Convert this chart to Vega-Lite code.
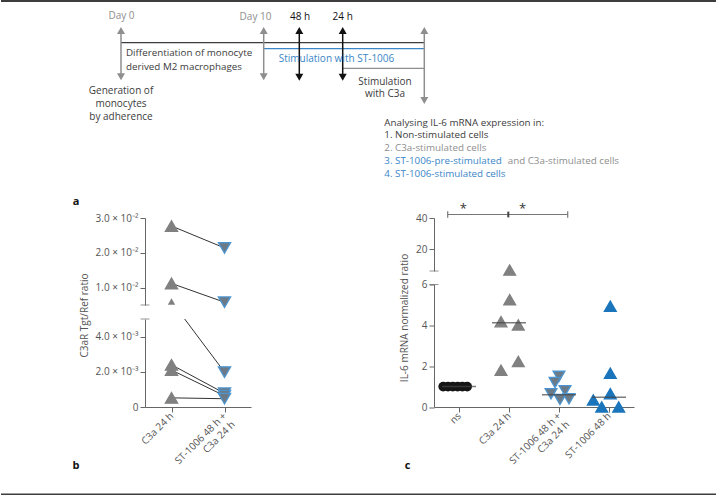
{
  "$schema": "https://vega.github.io/schema/vega-lite/v6.json",
  "padding": 0,
  "background": "white",
  "bounds": "flush",
  "spacing": 0,
  "resolve": {"scale": {"color": "independent", "stroke": "independent", "shape": "independent"}},
  "datasets": {
    "alines": [
      {"x": 120, "x2": 423.3, "y": 42.7, "series": "base"},
      {"x": 262.7, "x2": 423.3, "y": 48.7, "series": "ST-1006"},
      {"x": 341.7, "x2": 423.3, "y": 68.3, "series": "C3a"}
    ],
    "aframe": [{"x": 0, "x2": 716, "y": 1, "series": "frame"}],
    "arrows": [
      {"x": 120, "top": 30.5, "bottom": 76.8, "series": "day"},
      {"x": 262.7, "top": 30.5, "bottom": 76.8, "series": "day"},
      {"x": 298.3, "top": 30.5, "bottom": 77.3, "series": "timepoint"},
      {"x": 341.7, "top": 30.5, "bottom": 77.3, "series": "timepoint"},
      {"x": 423.3, "top": 30.5, "bottom": 100.5, "series": "day"}
    ],
    "atextc": [
      {"x": 120.5, "y": 16, "text": "Day 0", "series": "day"},
      {"x": 254.5, "y": 16.5, "text": "Day 10", "series": "day"},
      {"x": 299, "y": 16.5, "text": "48 h", "series": "timepoint"},
      {"x": 341.7, "y": 16.5, "text": "24 h", "series": "timepoint"},
      {"x": 335.5, "y": 59.3, "text": "Stimulation with ST-1006", "series": "ST-1006"},
      {"x": 384, "y": 81.7, "text": "Stimulation", "series": "base"},
      {"x": 384, "y": 94.3, "text": "with C3a", "series": "base"},
      {"x": 120, "y": 90.7, "text": "Generation of", "series": "base"},
      {"x": 120, "y": 104, "text": "monocytes", "series": "base"},
      {"x": 120, "y": 116.7, "text": "by adherence", "series": "base"}
    ],
    "atextl": [
      {"x": 125, "y": 53.3, "text": "Differentiation of monocyte", "series": "base"},
      {"x": 125, "y": 66.7, "text": "derived M2 macrophages", "series": "base"},
      {"x": 383.3, "y": 122.5, "text": "Analysing IL-6 mRNA expression in:", "series": "base"},
      {"x": 383.3, "y": 135.2, "text": "1. Non-stimulated cells", "series": "base"},
      {"x": 383.3, "y": 148.3, "text": "2. C3a-stimulated cells", "series": "C3a"},
      {"x": 383.3, "y": 161.4, "text": "3. ST-1006-pre-stimulated", "series": "ST-1006"},
      {"x": 506.7, "y": 161.4, "text": "and C3a-stimulated cells", "series": "C3a"},
      {"x": 383.3, "y": 174, "text": "4. ST-1006-stimulated cells", "series": "ST-1006"}
    ],
    "alabel": [{"x": 75, "y": 202, "text": "a"}],
    "botlabels": [{"x": 75, "y": 247.5, "text": "b"}, {"x": 406.7, "y": 247.5, "text": "c"}],
    "botframe": [{"x": 0, "x2": 716, "y": 276.5}],
    "bpts": [
      {"pair": 1, "group": "C3a 24 h", "pos": 1, "v": 0.0277},
      {"pair": 1, "group": "ST-1006 48 h + C3a 24 h", "pos": 2, "v": 0.0214},
      {"pair": 2, "group": "C3a 24 h", "pos": 1, "v": 0.0112},
      {"pair": 2, "group": "ST-1006 48 h + C3a 24 h", "pos": 2, "v": 0.0058},
      {"pair": 3, "group": "C3a 24 h", "pos": 1, "v": 0.006},
      {"pair": 3, "group": "ST-1006 48 h + C3a 24 h", "pos": 2, "v": 0.00198},
      {"pair": 4, "group": "C3a 24 h", "pos": 1, "v": 0.0024},
      {"pair": 4, "group": "ST-1006 48 h + C3a 24 h", "pos": 2, "v": 0.00078},
      {"pair": 5, "group": "C3a 24 h", "pos": 1, "v": 0.0021},
      {"pair": 5, "group": "ST-1006 48 h + C3a 24 h", "pos": 2, "v": 0.00064},
      {"pair": 6, "group": "C3a 24 h", "pos": 1, "v": 0.00052},
      {"pair": 6, "group": "ST-1006 48 h + C3a 24 h", "pos": 2, "v": 0.00047}
    ],
    "bbreak": [{"pos": 0.5, "v": 0.005}],
    "cbreak": [{"pos": 0.5, "v": 6}],
    "cpts": [
      {"group": "ns", "pos": 0.684, "v": 1.0},
      {"group": "ns", "pos": 0.78, "v": 1.0},
      {"group": "ns", "pos": 0.876, "v": 1.0},
      {"group": "ns", "pos": 0.972, "v": 1.0},
      {"group": "ns", "pos": 1.068, "v": 1.0},
      {"group": "ns", "pos": 1.164, "v": 1.0},
      {"group": "C3a 24 h", "pos": 2.014, "v": 6.6},
      {"group": "C3a 24 h", "pos": 2.014, "v": 5.26},
      {"group": "C3a 24 h", "pos": 1.84, "v": 4.18},
      {"group": "C3a 24 h", "pos": 2.186, "v": 4.02},
      {"group": "C3a 24 h", "pos": 2.186, "v": 2.23},
      {"group": "C3a 24 h", "pos": 1.84, "v": 1.8},
      {"group": "ST-1006 48 h + C3a 24 h", "pos": 3.0, "v": 1.5},
      {"group": "ST-1006 48 h + C3a 24 h", "pos": 2.92, "v": 1.2},
      {"group": "ST-1006 48 h + C3a 24 h", "pos": 2.84, "v": 0.65},
      {"group": "ST-1006 48 h + C3a 24 h", "pos": 3.12, "v": 0.8},
      {"group": "ST-1006 48 h + C3a 24 h", "pos": 3.02, "v": 0.37},
      {"group": "ST-1006 48 h + C3a 24 h", "pos": 3.2, "v": 0.4},
      {"group": "ST-1006 48 h", "pos": 4.026, "v": 4.94},
      {"group": "ST-1006 48 h", "pos": 4.026, "v": 1.66},
      {"group": "ST-1006 48 h", "pos": 4.026, "v": 0.65},
      {"group": "ST-1006 48 h", "pos": 3.686, "v": 0.35},
      {"group": "ST-1006 48 h", "pos": 3.854, "v": 0.0},
      {"group": "ST-1006 48 h", "pos": 4.194, "v": 0.0}
    ],
    "cmed": [
      {"group": "ns", "pos": 1, "v": 1.0},
      {"group": "C3a 24 h", "pos": 2, "v": 4.13},
      {"group": "ST-1006 48 h + C3a 24 h", "pos": 3, "v": 0.6},
      {"group": "ST-1006 48 h", "pos": 4, "v": 0.48}
    ],
    "csig": [
      {"pos": 0.774, "pos2": 3.174, "v": 42.25, "v2": 42.25},
      {"pos": 0.774, "pos2": 0.774, "v": 40.1, "v2": 44.4},
      {"pos": 3.174, "pos2": 3.174, "v": 40.1, "v2": 44.4}
    ],
    "csigmid": [{"pos": 1.986, "pos2": 1.986, "v": 40.4, "v2": 44.1}],
    "cstars": [{"pos": 1.086, "v": 45.5, "t": "*"}, {"pos": 2.274, "v": 45.5, "t": "*"}]
  },
  "vconcat": [
    {
      "width": 716,
      "height": 217.5,
      "encoding": {},
      "layer": [
        {
          "data": {"name": "aframe"},
          "mark": {"type": "rule", "strokeWidth": 2, "color": "#3d3d3d"},
          "encoding": {
            "x": {"field": "x", "type": "quantitative", "scale": {"domain": [0, 716], "nice": false, "zero": false}, "axis": null},
            "x2": {"field": "x2"},
            "y": {"field": "y", "type": "quantitative", "scale": {"domain": [0, 217.5], "nice": false, "zero": false, "reverse": true}, "axis": null}
          }
        },
        {
          "data": {"name": "alines"},
          "mark": {"type": "rule", "strokeWidth": 1.3},
          "encoding": {
            "x": {"field": "x", "type": "quantitative"},
            "x2": {"field": "x2"},
            "y": {"field": "y", "type": "quantitative"},
            "color": {"field": "series", "type": "nominal", "legend": null,
              "scale": {"domain": ["base", "day", "timepoint", "ST-1006", "C3a"], "range": ["#3c3c3c", "#8e8e8e", "#111111", "#3a86c8", "#8e8e8e"]}}
          }
        },
        {
          "data": {"name": "arrows"},
          "mark": {"type": "rule", "strokeWidth": 1.5},
          "encoding": {
            "x": {"field": "x", "type": "quantitative"},
            "y": {"field": "top", "type": "quantitative"},
            "y2": {"field": "bottom"},
            "color": {"field": "series", "type": "nominal", "legend": null}
          }
        },
        {
          "data": {"name": "arrows"},
          "mark": {"type": "point", "shape": "triangle-up", "filled": true, "size": 64, "opacity": 1},
          "encoding": {
            "x": {"field": "x", "type": "quantitative"},
            "y": {"field": "top", "type": "quantitative"},
            "color": {"field": "series", "type": "nominal", "legend": null}
          }
        },
        {
          "data": {"name": "arrows"},
          "mark": {"type": "point", "shape": "triangle-down", "filled": true, "size": 64, "opacity": 1},
          "encoding": {
            "x": {"field": "x", "type": "quantitative"},
            "y": {"field": "bottom", "type": "quantitative"},
            "color": {"field": "series", "type": "nominal", "legend": null}
          }
        },
        {
          "data": {"name": "atextc"},
          "mark": {"type": "text", "align": "center", "baseline": "middle", "fontSize": 10, "font": "Open Sans"},
          "encoding": {
            "x": {"field": "x", "type": "quantitative"},
            "y": {"field": "y", "type": "quantitative"},
            "text": {"field": "text"},
            "color": {"field": "series", "type": "nominal", "legend": null}
          }
        },
        {
          "data": {"name": "atextl"},
          "mark": {"type": "text", "align": "left", "baseline": "middle", "fontSize": 9.8, "font": "Open Sans"},
          "encoding": {
            "x": {"field": "x", "type": "quantitative"},
            "y": {"field": "y", "type": "quantitative"},
            "text": {"field": "text"},
            "color": {"field": "series", "type": "nominal", "legend": null}
          }
        },
        {
          "data": {"name": "alabel"},
          "mark": {"type": "text", "align": "center", "baseline": "middle", "fontSize": 11, "fontWeight": "bold", "color": "#111", "font": "Open Sans"},
          "encoding": {
            "x": {"field": "x", "type": "quantitative"},
            "y": {"field": "y", "type": "quantitative"},
            "text": {"field": "text"}
          }
        }
      ]
    },
    {
      "hconcat": [
        {
          "width": 144, "height": 189,
          "data": {"values": []},
          "mark": {"type": "point", "opacity": 0}
        },
        {
          "vconcat": [
            {
              "width": 106, "height": 87,
              "layer": [
                {
                  "data": {"name": "bpts"},
                  "transform": [
                    {"joinaggregate": [{"op": "min", "field": "v", "as": "vmin"}], "groupby": ["pair"]},
                    {"filter": "datum.vmin > 0.005"}
                  ],
                  "mark": {"type": "line", "clip": true, "color": "#333", "strokeWidth": 1},
                  "encoding": {
                    "x": {"field": "pos", "type": "quantitative", "scale": {"domain": [0.5, 2.5], "nice": false, "zero": false}, "axis": null},
                    "y": {"field": "v", "type": "quantitative", "scale": {"domain": [0.005, 0.03], "nice": false, "zero": false},
                      "axis": {"values": [0.01, 0.02, 0.03], "labelExpr": "format(datum.value*100, '.1f') + ' × 10⁻²'", "title": "C3aR Tgt/Ref ratio", "titleY": 97, "titlePadding": 6}},
                    "detail": {"field": "pair"}
                  }
                },
                {
                  "data": {"name": "bpts"},
                  "transform": [{"filter": "datum.v > 0.005 && !(datum.pos == 1 && datum.v < 0.008)"}],
                  "mark": {"type": "point", "filled": true, "size": 150, "opacity": 1, "strokeWidth": 1.3},
                  "encoding": {
                    "x": {"field": "pos", "type": "quantitative"},
                    "y": {"field": "v", "type": "quantitative"},
                    "shape": {"field": "group", "type": "nominal", "legend": null, "scale": {"domain": ["ns", "C3a 24 h", "ST-1006 48 h + C3a 24 h", "ST-1006 48 h"], "range": ["circle", "triangle-up", "triangle-down", "triangle-up"]}},
                    "color": {"field": "group", "type": "nominal", "legend": null, "scale": {"domain": ["ns", "C3a 24 h", "ST-1006 48 h + C3a 24 h", "ST-1006 48 h"], "range": ["#151515", "#808080", "#6c7a87", "#1b75bb"]}},
                    "stroke": {"field": "group", "type": "nominal", "legend": null, "scale": {"domain": ["ns", "C3a 24 h", "ST-1006 48 h + C3a 24 h", "ST-1006 48 h"], "range": ["#151515", "#808080", "#4d95d0", "#1b75bb"]}}
                  }
                },
                {
                  "data": {"name": "bpts"},
                  "transform": [{"filter": "datum.pos == 1 && datum.v > 0.005 && datum.v < 0.008"}],
                  "mark": {"type": "point", "shape": "triangle-up", "filled": true, "size": 55, "opacity": 1, "color": "#808080"},
                  "encoding": {
                    "x": {"field": "pos", "type": "quantitative"},
                    "y": {"field": "v", "type": "quantitative"}
                  }
                },
                {
                  "data": {"name": "bbreak"},
                  "mark": {"type": "tick", "orient": "horizontal", "size": 9, "thickness": 1, "color": "#666"},
                  "encoding": {
                    "x": {"field": "pos", "type": "quantitative"},
                    "y": {"field": "v", "type": "quantitative"}
                  }
                }
              ]
            },
            {
              "width": 106, "height": 88,
              "layer": [
                {
                  "data": {"name": "bpts"},
                  "mark": {"type": "line", "clip": true, "color": "#333", "strokeWidth": 1},
                  "encoding": {
                    "x": {"field": "pos", "type": "quantitative", "scale": {"domain": [0.5, 2.5], "nice": false, "zero": false},
                      "axis": {"values": [1, 2], "labelExpr": "datum.value == 1 ? 'C3a 24 h' : ['ST-1006 48 h +', 'C3a 24 h']", "labelAngle": -45, "labelAlign": "right", "labelBaseline": "middle", "title": null, "labelOverlap": false, "labelFlush": false, "labelBound": false, "labelLineHeight": 12}},
                    "y": {"field": "v", "type": "quantitative", "scale": {"domain": [0, 0.005], "nice": false, "zero": false},
                      "axis": {"values": [0, 0.002, 0.004], "labelExpr": "datum.value == 0 ? '0' : format(datum.value*1000, '.1f') + ' × 10⁻³'", "title": null}},
                    "detail": {"field": "pair"}
                  }
                },
                {
                  "data": {"name": "bpts"},
                  "transform": [{"filter": "datum.v <= 0.005"}],
                  "mark": {"type": "point", "filled": true, "size": 150, "opacity": 1, "strokeWidth": 1.3},
                  "encoding": {
                    "x": {"field": "pos", "type": "quantitative"},
                    "y": {"field": "v", "type": "quantitative"},
                    "shape": {"field": "group", "type": "nominal", "legend": null, "scale": {"domain": ["ns", "C3a 24 h", "ST-1006 48 h + C3a 24 h", "ST-1006 48 h"], "range": ["circle", "triangle-up", "triangle-down", "triangle-up"]}},
                    "color": {"field": "group", "type": "nominal", "legend": null, "scale": {"domain": ["ns", "C3a 24 h", "ST-1006 48 h + C3a 24 h", "ST-1006 48 h"], "range": ["#151515", "#808080", "#6c7a87", "#1b75bb"]}},
                    "stroke": {"field": "group", "type": "nominal", "legend": null, "scale": {"domain": ["ns", "C3a 24 h", "ST-1006 48 h + C3a 24 h", "ST-1006 48 h"], "range": ["#151515", "#808080", "#4d95d0", "#1b75bb"]}}
                  }
                },
                {
                  "data": {"name": "bbreak"},
                  "mark": {"type": "tick", "orient": "horizontal", "size": 9, "thickness": 1, "color": "#666"},
                  "encoding": {
                    "x": {"field": "pos", "type": "quantitative"},
                    "y": {"field": "v", "type": "quantitative"}
                  }
                }
              ]
            }
          ],
          "spacing": 14,
          "bounds": "flush"
        },
        {
          "width": 289, "height": 189,
          "data": {"values": []},
          "mark": {"type": "point", "opacity": 0}
        },
        {
          "vconcat": [
            {
              "width": 200, "height": 53,
              "layer": [
                {
                  "data": {"name": "cpts"},
                  "transform": [{"filter": "datum.v > 6"}],
                  "mark": {"type": "point", "filled": true, "size": 140, "opacity": 1, "strokeWidth": 1.3},
                  "encoding": {
                    "x": {"field": "pos", "type": "quantitative", "scale": {"domain": [0.5, 4.5], "nice": false, "zero": false}, "axis": null},
                    "y": {"field": "v", "type": "quantitative", "scale": {"domain": [6, 40], "nice": false, "zero": false},
                      "axis": {"values": [20, 40], "title": "IL-6 mRNA normalized ratio", "titleY": 99.5, "titlePadding": 6}},
                    "shape": {"field": "group", "type": "nominal", "legend": null, "scale": {"domain": ["ns", "C3a 24 h", "ST-1006 48 h + C3a 24 h", "ST-1006 48 h"], "range": ["circle", "triangle-up", "triangle-down", "triangle-up"]}},
                    "color": {"field": "group", "type": "nominal", "legend": null, "scale": {"domain": ["ns", "C3a 24 h", "ST-1006 48 h + C3a 24 h", "ST-1006 48 h"], "range": ["#151515", "#808080", "#6c7a87", "#1b75bb"]}},
                    "stroke": {"field": "group", "type": "nominal", "legend": null, "scale": {"domain": ["ns", "C3a 24 h", "ST-1006 48 h + C3a 24 h", "ST-1006 48 h"], "range": ["#151515", "#808080", "#4d95d0", "#1b75bb"]}}
                  }
                },
                {
                  "data": {"name": "csig"},
                  "mark": {"type": "rule", "color": "#777", "strokeWidth": 1.2},
                  "encoding": {
                    "x": {"field": "pos", "type": "quantitative"},
                    "x2": {"field": "pos2"},
                    "y": {"field": "v", "type": "quantitative"},
                    "y2": {"field": "v2"}
                  }
                },
                {
                  "data": {"name": "csigmid"},
                  "mark": {"type": "rule", "color": "#444", "strokeWidth": 2},
                  "encoding": {
                    "x": {"field": "pos", "type": "quantitative"},
                    "x2": {"field": "pos2"},
                    "y": {"field": "v", "type": "quantitative"},
                    "y2": {"field": "v2"}
                  }
                },
                {
                  "data": {"name": "cstars"},
                  "mark": {"type": "text", "fontSize": 13, "color": "#333", "align": "center", "baseline": "middle", "font": "Open Sans"},
                  "encoding": {
                    "x": {"field": "pos", "type": "quantitative"},
                    "y": {"field": "v", "type": "quantitative"},
                    "text": {"field": "t"}
                  }
                },
                {
                  "data": {"name": "cbreak"},
                  "mark": {"type": "tick", "orient": "horizontal", "size": 9, "thickness": 1, "color": "#666"},
                  "encoding": {
                    "x": {"field": "pos", "type": "quantitative"},
                    "y": {"field": "v", "type": "quantitative"}
                  }
                }
              ]
            },
            {
              "width": 200, "height": 122.5,
              "layer": [
                {
                  "data": {"name": "cpts"},
                  "transform": [{"filter": "datum.v <= 6 && datum.group == 'ns'"}],
                  "mark": {"type": "point", "shape": "circle", "filled": true, "size": 95, "opacity": 1, "color": "#151515"},
                  "encoding": {
                    "x": {"field": "pos", "type": "quantitative", "scale": {"domain": [0.5, 4.5], "nice": false, "zero": false},
                      "axis": {"values": [1, 2, 3, 4], "labelExpr": "datum.value == 1 ? 'ns' : datum.value == 2 ? 'C3a 24 h' : datum.value == 3 ? ['ST-1006 48 h +', 'C3a 24 h'] : 'ST-1006 48 h'", "labelAngle": -45, "labelAlign": "right", "labelBaseline": "middle", "title": null, "labelOverlap": false, "labelFlush": false, "labelBound": false, "labelLineHeight": 12}},
                    "y": {"field": "v", "type": "quantitative", "scale": {"domain": [0, 6], "nice": false, "zero": false},
                      "axis": {"values": [0, 2, 4, 6], "title": null}}
                  }
                },
                {
                  "data": {"name": "cpts"},
                  "transform": [{"filter": "datum.v <= 6 && datum.group != 'ns'"}],
                  "mark": {"type": "point", "filled": true, "size": 140, "opacity": 1, "strokeWidth": 1.3},
                  "encoding": {
                    "x": {"field": "pos", "type": "quantitative"},
                    "y": {"field": "v", "type": "quantitative"},
                    "shape": {"field": "group", "type": "nominal", "legend": null, "scale": {"domain": ["ns", "C3a 24 h", "ST-1006 48 h + C3a 24 h", "ST-1006 48 h"], "range": ["circle", "triangle-up", "triangle-down", "triangle-up"]}},
                    "color": {"field": "group", "type": "nominal", "legend": null, "scale": {"domain": ["ns", "C3a 24 h", "ST-1006 48 h + C3a 24 h", "ST-1006 48 h"], "range": ["#151515", "#808080", "#6c7a87", "#1b75bb"]}},
                    "stroke": {"field": "group", "type": "nominal", "legend": null, "scale": {"domain": ["ns", "C3a 24 h", "ST-1006 48 h + C3a 24 h", "ST-1006 48 h"], "range": ["#151515", "#808080", "#4d95d0", "#1b75bb"]}}
                  }
                },
                {
                  "data": {"name": "cmed"},
                  "mark": {"type": "tick", "orient": "horizontal", "size": 34, "thickness": 1.5, "color": "#444"},
                  "encoding": {
                    "x": {"field": "pos", "type": "quantitative"},
                    "y": {"field": "v", "type": "quantitative"}
                  }
                },
                {
                  "data": {"name": "cbreak"},
                  "mark": {"type": "tick", "orient": "horizontal", "size": 9, "thickness": 1, "color": "#666"},
                  "encoding": {
                    "x": {"field": "pos", "type": "quantitative"},
                    "y": {"field": "v", "type": "quantitative"}
                  }
                }
              ]
            }
          ],
          "spacing": 13.5,
          "bounds": "flush"
        }
      ],
      "spacing": 0,
      "bounds": "flush"
    },
    {
      "width": 716,
      "height": 277.5,
      "layer": [
        {
          "data": {"name": "botframe"},
          "mark": {"type": "rule", "strokeWidth": 2, "color": "#3d3d3d"},
          "encoding": {
            "x": {"field": "x", "type": "quantitative", "scale": {"domain": [0, 716], "nice": false, "zero": false}, "axis": null},
            "x2": {"field": "x2"},
            "y": {"field": "y", "type": "quantitative", "scale": {"domain": [0, 277.5], "nice": false, "zero": false, "reverse": true}, "axis": null}
          }
        },
        {
          "data": {"name": "botlabels"},
          "mark": {"type": "text", "align": "center", "baseline": "middle", "fontSize": 11, "fontWeight": "bold", "color": "#111", "font": "Open Sans"},
          "encoding": {
            "x": {"field": "x", "type": "quantitative"},
            "y": {"field": "y", "type": "quantitative"},
            "text": {"field": "text"}
          }
        }
      ]
    }
  ],
  "config": {
    "view": {"stroke": null},
    "font": "Open Sans",
    "axis": {
      "labelFont": "Open Sans", "titleFont": "Open Sans",
      "labelFontSize": 10, "titleFontSize": 10, "titleFontWeight": "normal",
      "labelColor": "#555", "titleColor": "#555",
      "domainColor": "#666", "tickColor": "#666",
      "grid": false, "tickSize": 5, "labelPadding": 2
    }
  }
}
